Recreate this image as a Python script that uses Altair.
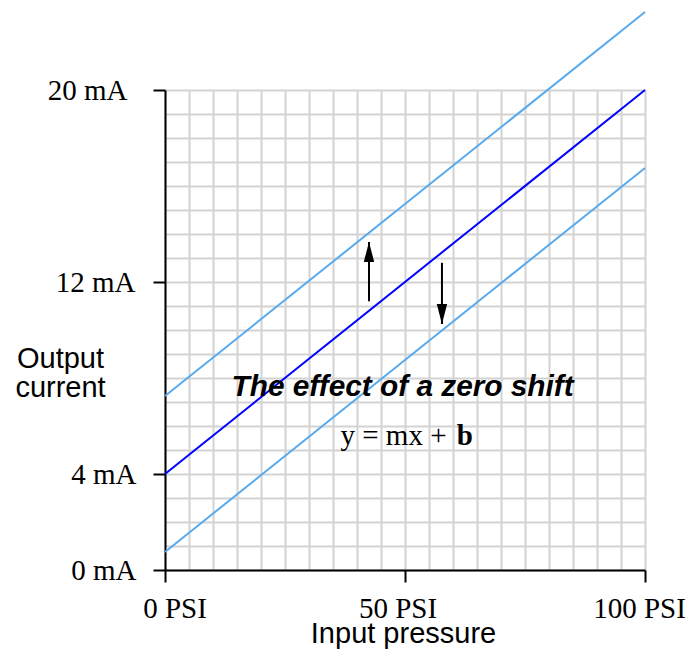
import altair as alt
import pandas as pd

# ---- data ----
psi = [0, 100]
ma_zero = [4, 20]          # calibrated line
ma_up = [7.25, 23.25]      # positive zero shift
ma_down = [0.75, 16.75]    # negative zero shift

grid_psi = [0, 5, 10, 15, 20, 25, 30, 35, 40, 45, 50, 55, 60, 65, 70, 75, 80, 85, 90, 95, 100]
grid_ma = [0, 1, 2, 3, 4, 5, 6, 7, 8, 9, 10, 11, 12, 13, 14, 15, 16, 17, 18, 19, 20]

x_tick_values = [0, 50, 100]
x_tick_labels = ["0 PSI", "50 PSI", "100 PSI"]
x_label_shift = [9.5, -7.5, -6]
y_tick_values = [0, 4, 12, 20]
y_tick_labels = ["0 mA", "4 mA", "12 mA", "20 mA"]
y_label_gap = [17, 17, 18, 26]

up_arrow_psi = [42.5]
up_arrow_from = [11.2]
up_arrow_to = [13.67]
down_arrow_psi = [57.7]
down_arrow_from = [12.8]
down_arrow_to = [10.25]

title_pos = [49.5, 7.25]
eq_pos = [47.6, 5.2]
b_pos = [60.8, 5.2]

# ---- helpers ----
def label_expr(vals, labels):
    s = "''"
    for v, l in reversed(list(zip(vals, labels))):
        s = f"datum.value == {v} ? '{l}' : ({s})"
    return s

def in_test(vals):
    return "indexof([" + ",".join(str(v) for v in vals) + "], datum.value) >= 0"

def per_value(vals, nums, default):
    return {"condition": [{"test": f"datum.value == {v}", "value": n} for v, n in zip(vals, nums)],
            "value": default}

SERIF = "Liberation Serif"
SANS = "Liberation Sans"
GRID = "#d3d3d3"
LIGHT = "#58aaed"
DARK = "#0000ff"

xscale = alt.Scale(domain=[0, 100], nice=False, zero=False)
yscale = alt.Scale(domain=[0, 20], nice=False, zero=False)

xaxis = alt.Axis(
    values=grid_psi, grid=True, gridColor=GRID, gridWidth=2,
    domainColor="black", domainWidth=2,
    tickColor="black", tickWidth=2, tickSize=12,
    tickOpacity={"condition": {"test": in_test(x_tick_values), "value": 1}, "value": 0},
    labelExpr=label_expr(x_tick_values, x_tick_labels),
    labelOffset=per_value(x_tick_values, x_label_shift, 0),
    labelFont=SERIF, labelFontSize=29, labelColor="black",
    labelBaseline="alphabetic", labelAlign="center", labelPadding=35,
    labelFlush=False, labelOverlap=False, labelBound=False,
    title="Input pressure", titleFont=SANS, titleFontSize=29, titleFontWeight="normal",
    titleColor="black", titleBaseline="alphabetic", titleAlign="center",
    titleX=238, titleY=72,
)
yaxis = alt.Axis(
    values=grid_ma, grid=True, gridColor=GRID, gridWidth=2,
    domainColor="black", domainWidth=2,
    tickColor="black", tickWidth=2, tickSize=12,
    tickOpacity={"condition": {"test": in_test(y_tick_values), "value": 1}, "value": 0},
    labelExpr=label_expr(y_tick_values, y_tick_labels),
    labelPadding=per_value(y_tick_values, y_label_gap, 22),
    labelFont=SERIF, labelFontSize=29, labelColor="black",
    labelBaseline="middle", labelAlign="right",
    labelFlush=False, labelOverlap=False, labelBound=False,
    title=["Output", "current"], titleFont=SANS, titleFontSize=29, titleFontWeight="normal",
    titleColor="black", titleAngle=0, titleAlign="center", titleBaseline="alphabetic",
    titleX=-105, titleY=277, titleLineHeight=29,
)

X = alt.X("psi:Q", scale=xscale, axis=xaxis)
Y = alt.Y("ma:Q", scale=yscale, axis=yaxis)

# ---- frames ----
lines_df = pd.DataFrame({
    "psi": psi * 3,
    "ma": ma_up + ma_zero + ma_down,
    "series": ["up"] * 2 + ["zero"] * 2 + ["down"] * 2,
})
up_df = pd.DataFrame({"psi": up_arrow_psi, "ma": up_arrow_from, "ma2": up_arrow_to})
down_df = pd.DataFrame({"psi": down_arrow_psi, "ma": down_arrow_from, "ma2": down_arrow_to})
up_head = pd.DataFrame({"psi": up_arrow_psi, "ma": up_arrow_to})
down_head = pd.DataFrame({"psi": down_arrow_psi, "ma": down_arrow_to})
title_df = pd.DataFrame({"psi": [title_pos[0]], "ma": [title_pos[1]]})
eq_df = pd.DataFrame({"psi": [eq_pos[0]], "ma": [eq_pos[1]]})
b_df = pd.DataFrame({"psi": [b_pos[0]], "ma": [b_pos[1]]})

lines = alt.Chart(lines_df).mark_line(strokeWidth=2, clip=False).encode(
    x=X, y=Y,
    detail="series:N",
    color=alt.Color("series:N", scale=alt.Scale(domain=["up", "zero", "down"],
                                                range=[LIGHT, DARK, LIGHT]), legend=None),
)

up_shaft = alt.Chart(up_df).mark_rule(color="black", strokeWidth=2).encode(x=X, y=Y, y2="ma2:Q")
down_shaft = alt.Chart(down_df).mark_rule(color="black", strokeWidth=2).encode(x=X, y=Y, y2="ma2:Q")
up_tip = alt.Chart(up_head).mark_point(
    shape="M0,0L-0.26,1L0.26,1Z", size=1600, filled=True, color="black", opacity=1, strokeWidth=0
).encode(x=X, y=Y)
down_tip = alt.Chart(down_head).mark_point(
    shape="M0,0L-0.26,-1L0.26,-1Z", size=1600, filled=True, color="black", opacity=1, strokeWidth=0
).encode(x=X, y=Y)

title_txt = alt.Chart(title_df).mark_text(
    text="The effect of a zero shift", font=SANS, fontSize=29.8, fontWeight="bold",
    fontStyle="italic", align="center", baseline="alphabetic", color="black"
).encode(x=X, y=Y)
eq_txt = alt.Chart(eq_df).mark_text(
    text="y = mx +", font=SERIF, fontSize=29, align="center", baseline="alphabetic", color="black"
).encode(x=X, y=Y)
b_txt = alt.Chart(b_df).mark_text(
    text="b", font=SERIF, fontSize=29, fontWeight="bold", align="left",
    baseline="alphabetic", color="black"
).encode(x=X, y=Y)

chart = alt.layer(
    lines, up_shaft, down_shaft, up_tip, down_tip, title_txt, eq_txt, b_txt
).properties(
    width=480, height=480,
    autosize=alt.AutoSizeParams(type="none"),
    padding={"left": 157, "top": 82, "right": 41, "bottom": 87},
    background="white",
).configure_view(stroke=None)

chart.save("out.html", embed_options={"renderer": "svg", "actions": False})
